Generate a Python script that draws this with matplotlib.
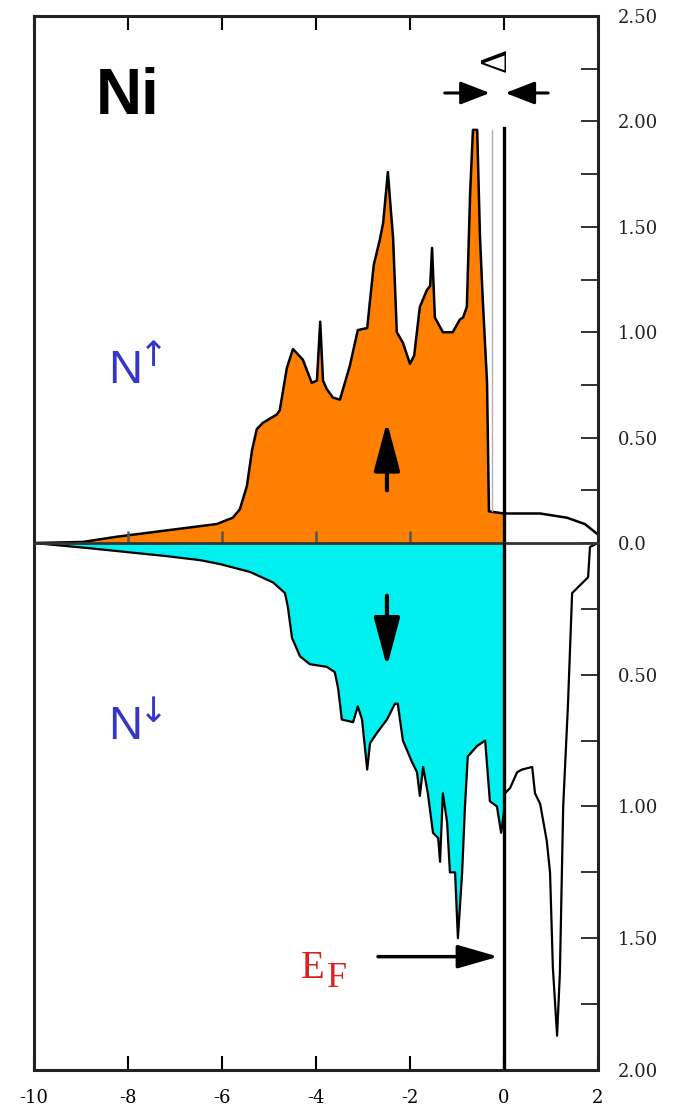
import numpy as np
import matplotlib.pyplot as plt

# Ni density of states, energy in eV relative to E_F
e_up = np.array([-10.00, -8.96, -8.23, -7.17, -6.11, -5.77, -5.62, -5.47, -5.36, -5.26,
                 -5.13, -4.83, -4.77, -4.62, -4.49, -4.28, -4.09, -3.98, -3.91, -3.85,
                 -3.77, -3.64, -3.49, -3.28, -3.11, -2.91, -2.85, -2.77, -2.64, -2.57,
                 -2.47, -2.40, -2.36, -2.28, -2.15, -2.00, -1.91, -1.79, -1.64, -1.57,
                 -1.53, -1.47, -1.30, -1.09, -0.94, -0.87, -0.79, -0.72, -0.66, -0.57,
                 -0.51, -0.45, -0.36, -0.32, 0.00, 0.77, 1.34, 1.72, 1.89, 2.00])
n_up = np.array([0.0, 0.005, 0.03, 0.06, 0.09, 0.12, 0.16, 0.27, 0.44, 0.54,
                 0.57, 0.61, 0.63, 0.83, 0.92, 0.87, 0.76, 0.77, 1.05, 0.77,
                 0.73, 0.69, 0.68, 0.84, 1.01, 1.02, 1.15, 1.32, 1.44, 1.52,
                 1.76, 1.56, 1.45, 1.00, 0.95, 0.85, 0.89, 1.12, 1.20, 1.22,
                 1.40, 1.07, 1.00, 1.00, 1.06, 1.07, 1.12, 1.66, 1.96, 1.96,
                 1.45, 1.15, 0.76, 0.15, 0.14, 0.14, 0.12, 0.09, 0.06, 0.04])

e_dn = np.array([-10.00, -8.81, -7.17, -6.47, -6.04, -5.40, -4.91, -4.66, -4.60, -4.51,
                 -4.34, -4.13, -3.77, -3.60, -3.53, -3.45, -3.21, -3.11, -3.02, -2.91,
                 -2.85, -2.70, -2.49, -2.32, -2.26, -2.15, -1.96, -1.85, -1.79, -1.72,
                 -1.62, -1.51, -1.40, -1.36, -1.30, -1.21, -1.15, -1.04, -0.98, -0.89,
                 -0.83, -0.77, -0.57, -0.40, -0.30, -0.15, -0.06, 0.00, 0.02, 0.13,
                 0.28, 0.38, 0.60, 0.66, 0.77, 0.91, 0.98, 1.04, 1.13, 1.19,
                 1.26, 1.36, 1.45, 1.62, 1.79, 1.83, 2.00])
n_dn = np.array([0.0, 0.02, 0.05, 0.065, 0.08, 0.11, 0.15, 0.19, 0.24, 0.36,
                 0.43, 0.46, 0.47, 0.49, 0.55, 0.67, 0.68, 0.62, 0.67, 0.86,
                 0.76, 0.72, 0.67, 0.61, 0.61, 0.75, 0.83, 0.87, 0.96, 0.85,
                 0.95, 1.10, 1.12, 1.21, 0.95, 1.06, 1.25, 1.25, 1.50, 1.25,
                 1.00, 0.81, 0.77, 0.75, 0.98, 1.00, 1.10, 1.02, 0.95, 0.93,
                 0.87, 0.86, 0.85, 0.95, 0.99, 1.13, 1.25, 1.61, 1.87, 1.63,
                 1.00, 0.62, 0.19, 0.16, 0.13, 0.015, 0.0])

x_ticks = [-10, -8, -6, -4, -2, 0, 2]
x_labels = ['-10', '-8', '-6', '-4', '-2', '0', '2']
up_ticks = [0.0, 0.5, 1.0, 1.5, 2.0, 2.5]
up_labels = ['0.0', '0.50', '1.00', '1.50', '2.00', '2.50']
dn_ticks = [0.5, 1.0, 1.5, 2.0]
dn_labels = ['0.50', '1.00', '1.50', '2.00']

orange = '#ff8000'
cyan = '#00f0f0'
frame = '#222222'
blue = '#3535c8'
red = '#dd2020'

plt.rcParams['font.family'] = 'DejaVu Serif'

fig = plt.figure(figsize=(6.74, 11.15), dpi=100)
ax_up = fig.add_axes([0.0504, 0.5130, 0.8368, 0.4726])
ax_dn = fig.add_axes([0.0504, 0.0404, 0.8368, 0.4726], sharex=ax_up)

# filled occupied states
ax_up.fill_between(e_up, 0, n_up, where=e_up <= 0, color=orange, lw=0)
ax_up.plot(e_up, n_up, color='k', lw=1.8)
ax_dn.fill_between(e_dn, 0, n_dn, where=e_dn <= 0, color=cyan, lw=0)
ax_dn.plot(e_dn, n_dn, color='k', lw=1.6)

ax_up.set_xlim(-10, 2)
ax_up.set_ylim(0, 2.5)
ax_dn.set_ylim(2.0, 0)

# frame
ax_up.spines['bottom'].set_visible(False)
ax_dn.spines['top'].set_visible(False)
for ax in (ax_up, ax_dn):
    for s in ax.spines.values():
        s.set_linewidth(2.2)
        s.set_color(frame)
ax_dn.axhline(0, color='#333333', lw=2, clip_on=False, zorder=3)

# ticks
ax_dn.set_xticks(x_ticks, x_labels)
ax_dn.tick_params(axis='x', direction='in', length=10, width=1.5, pad=14,
                  labelsize=13, top=False)
ax_up.tick_params(axis='x', direction='in', length=10, width=1.5,
                  top=True, bottom=False, labelbottom=False)
ax_up.yaxis.tick_right()
ax_dn.yaxis.tick_right()
ax_up.set_yticks(up_ticks, up_labels)
ax_up.set_yticks([0.25, 0.75, 1.25, 1.75, 2.25], minor=True)
ax_dn.set_yticks(dn_ticks, dn_labels)
ax_dn.set_yticks([0.25, 0.75, 1.25, 1.75], minor=True)
for ax in (ax_up, ax_dn):
    ax.tick_params(axis='y', which='both', direction='in', length=12, width=1.3,
                   pad=14, labelsize=13, left=False, right=True, colors='#222222')

# small marks on the zero line
ax_up.plot([-8, -6, -4, -2], [0, 0, 0, 0], ls='none', marker='|', ms=18, mew=1.8,
           color='#555555', clip_on=False, zorder=4)

# Fermi level and the exchange splitting guide
ax_up.plot([0, 0], [0, 1.97], color='k', lw=2.4, zorder=5)
ax_dn.axvline(0, color='k', lw=2.4, zorder=5)
ax_up.plot([-0.26, -0.26], [0.15, 1.96], color='#b0b0b0', lw=1.0, zorder=4)

ax_up.annotate('', xy=(-0.30, 2.135), xytext=(-1.26, 2.135),
               arrowprops=dict(arrowstyle='-|>,head_length=0.9,head_width=0.35',
                               mutation_scale=20, lw=2.2, color='k',
                               shrinkA=0, shrinkB=0))
ax_up.annotate('', xy=(0.03, 2.135), xytext=(0.94, 2.135),
               arrowprops=dict(arrowstyle='-|>,head_length=0.9,head_width=0.35',
                               mutation_scale=20, lw=2.2, color='k',
                               shrinkA=0, shrinkB=0))
ax_up.text(-0.17, 2.29, 'Δ', rotation=90, ha='center', va='center', fontsize=27,
           family='Liberation Serif', color='k')

# spin arrows
ax_up.annotate('', xy=(-2.49, 0.575), xytext=(-2.49, 0.25),
               arrowprops=dict(arrowstyle='-|>,head_length=1.5,head_width=0.4',
                               mutation_scale=20, lw=3, color='k',
                               shrinkA=0, shrinkB=0))
ax_dn.annotate('', xy=(-2.49, 0.47), xytext=(-2.49, 0.20),
               arrowprops=dict(arrowstyle='-|>,head_length=1.5,head_width=0.4',
                               mutation_scale=20, lw=3, color='k',
                               shrinkA=0, shrinkB=0))

# E_F arrow
ax_dn.annotate('', xy=(-0.12, 1.57), xytext=(-2.68, 1.57),
               arrowprops=dict(arrowstyle='-|>,head_length=1.25,head_width=0.36',
                               mutation_scale=20, lw=2.5, color='k',
                               shrinkA=0, shrinkB=0))

# labels
ax_up.text(-8.0, 2.116, 'Ni', ha='center', va='center', fontsize=46,
           fontweight='bold', family='Liberation Sans', color='k')
ax_up.text(-8.43, 0.759, 'N', ha='left', va='baseline', fontsize=34,
           family='Liberation Sans', color=blue)
ax_up.text(-7.46, 0.885, '↑', ha='center', va='center', fontsize=25,
           family='DejaVu Sans', color=blue)
ax_dn.text(-8.43, 0.744, 'N', ha='left', va='baseline', fontsize=34,
           family='Liberation Sans', color=blue)
ax_dn.text(-7.46, 0.64, '↓', ha='center', va='center', fontsize=25,
           family='DejaVu Sans', color=blue)
ax_dn.text(-4.33, 1.651, 'E', ha='left', va='baseline', fontsize=28,
           family='Liberation Serif', color=red)
ax_dn.text(-3.77, 1.685, 'F', ha='left', va='baseline', fontsize=26,
           family='Liberation Serif', color=red)

fig.savefig('out.png', dpi=100, facecolor='white')
